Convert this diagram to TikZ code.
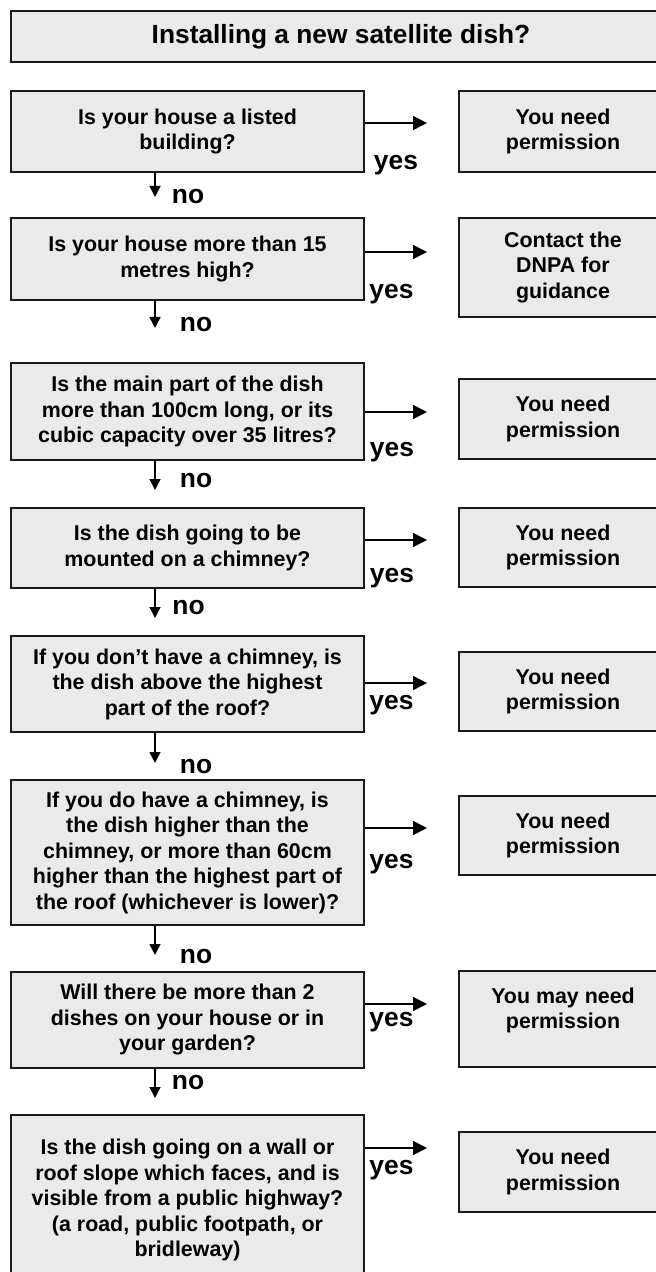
\documentclass[tikz,border=0pt]{standalone}
\usepackage{fontspec}
\setmainfont{Liberation Sans}
\usetikzlibrary{arrows.meta, positioning}
\definecolor{boxgray}{RGB}{234,234,234}

\begin{document}
\begin{tikzpicture}[x=0.5pt, y=-0.5pt, >={Triangle[length=5.5pt, width=5.5pt]},
  qbox/.style={draw=black!90, line width=1pt, fill=boxgray, minimum width=176.5pt, align=center, inner sep=2pt,
    font=\bfseries\fontsize{10.7pt}{12.75pt}\selectfont},
  abox/.style={qbox, minimum width=104pt},
  lab/.style={font=\bfseries\fontsize{13.2pt}{15pt}\selectfont, inner sep=0pt},
  flow/.style={->, line width=0.75pt},
  yesflow/.style={-{Triangle[length=7pt, width=7pt]}, line width=0.75pt}]
\useasboundingbox (0,0) rectangle (656,1272);

% title
\node[qbox, minimum width=330pt, minimum height=25.5pt, font=\bfseries\fontsize{13.15pt}{15pt}\selectfont] (title) at (341,36.5) {Installing a new satellite dish?};

% questions
\node[qbox, minimum height=40.5pt] (q1) at (187.5,131.5) {Is your house a listed\\ building?};
\node[qbox, minimum height=41pt] (q2) at (187.5,259) {Is your house more than 15\\ metres high?};
\node[qbox, minimum height=48.5pt] (q3) at (187.5,411.5) {Is the main part of the dish\\ more than 100cm long, or its\\ cubic capacity over 35 litres?};
\node[qbox, minimum height=40pt] (q4) at (187.5,548) {Is the dish going to be\\ mounted on a chimney?};
\node[qbox, minimum height=48pt] (q5) at (187.5,684) {If you don’t have a chimney, is\\ the dish above the highest\\ part of the roof?};
\node[qbox, minimum height=72.5pt] (q6) at (187.5,852.5) {If you do have a chimney, is\\ the dish higher than the\\ chimney, or more than 60cm\\ higher than the highest part of\\ the roof (whichever is lower)?};
\node[qbox, minimum height=48pt] (q7) at (187.5,1020) {Will there be more than 2\\ dishes on your house or in\\ your garden?};
\node[qbox, minimum height=85pt] (q8) at (187.5,1200) {Is the dish going on a wall or\\ roof slope which faces, and is\\ visible from a public highway?\\ (a road, public footpath, or\\ bridleway)};

% answers
\node[abox, minimum height=40.5pt] (r1) at (563,131.5) {You need\\ permission};
\node[abox, minimum height=49.5pt] (r2) at (563,267.5) {Contact the\\ DNPA for\\ guidance};
\node[abox, minimum height=40pt] (r3) at (563,419) {You need\\ permission};
\node[abox, minimum height=39.5pt] (r4) at (563,547.5) {You need\\ permission};
\node[abox, minimum height=39.5pt] (r5) at (563,691.5) {You need\\ permission};
\node[abox, minimum height=39.5pt] (r6) at (563,835.5) {You need\\ permission};
\node[abox, minimum height=48pt, text depth=10.75pt] (r7) at (563,1019) {You may need\\ permission};
\node[abox, minimum height=40pt] (r8) at (563,1172) {You need\\ permission};

% no branches
\coordinate (n1) at (155,197);
\coordinate (n2) at (155,328);
\coordinate (n3) at (155,490);
\coordinate (n4) at (155,618);
\coordinate (n5) at (155,763);
\coordinate (n6) at (155,955);
\coordinate (n7) at (155,1098);
\draw[flow] (q1.south -| n1) -- (n1);
\draw[flow] (q2.south -| n2) -- (n2);
\draw[flow] (q3.south -| n3) -- (n3);
\draw[flow] (q4.south -| n4) -- (n4);
\draw[flow] (q5.south -| n5) -- (n5);
\draw[flow] (q6.south -| n6) -- (n6);
\draw[flow] (q7.south -| n7) -- (n7);
\node[lab] (no1) at (188,197) {no};
\node[lab] (no2) at (196,325) {no};
\node[lab] (no3) at (196,481) {no};
\node[lab] (no4) at (188.5,608) {no};
\node[lab] (no5) at (196,767) {no};
\node[lab] (no6) at (196,957) {no};
\node[lab] (no7) at (188,1083) {no};

% yes branches
\coordinate (y1) at (427,123);
\coordinate (y2) at (427,252);
\coordinate (y3) at (427,412);
\coordinate (y4) at (427,540);
\coordinate (y5) at (427,683);
\coordinate (y6) at (427,828);
\coordinate (y7) at (427,1004);
\coordinate (y8) at (427,1148);
\draw[yesflow] (q1.east |- y1) -- (y1);
\draw[yesflow] (q2.east |- y2) -- (y2);
\draw[yesflow] (q3.east |- y3) -- (y3);
\draw[yesflow] (q4.east |- y4) -- (y4);
\draw[yesflow] (q5.east |- y5) -- (y5);
\draw[yesflow] (q6.east |- y6) -- (y6);
\draw[yesflow] (q7.east |- y7) -- (y7);
\draw[yesflow] (q8.east |- y8) -- (y8);
\node[lab] (yes1) at (396,165) {yes};
\node[lab] (yes2) at (391.5,294) {yes};
\node[lab] (yes3) at (392,452) {yes};
\node[lab] (yes4) at (392,578) {yes};
\node[lab] (yes5) at (391.5,705) {yes};
\node[lab] (yes6) at (391.5,864) {yes};
\node[lab] (yes7) at (391.5,1022) {yes};
\node[lab] (yes8) at (391.5,1170) {yes};
\end{tikzpicture}
\end{document}
